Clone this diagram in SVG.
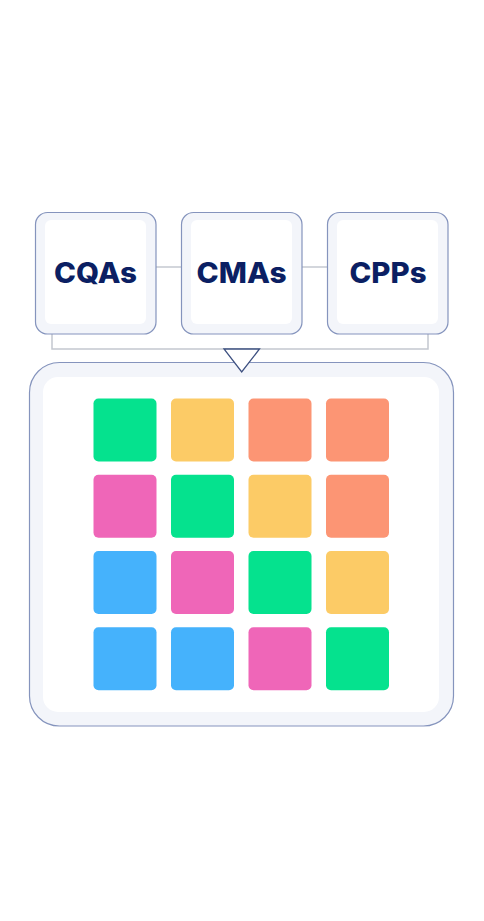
<svg xmlns="http://www.w3.org/2000/svg" width="484" height="921" viewBox="0 0 484 921">
<style>
.card{fill:#f3f5fa;stroke:#8594bd;stroke-width:1.2}
.inner{fill:#ffffff}
.lbl{font-family:Inter,"Liberation Sans",Arial,sans-serif;font-weight:800;font-size:28.5px;fill:#0b1f63;text-anchor:middle}
.link{stroke:#c4c8d0;stroke-width:1.5;fill:none}
.g{fill:#05e28e}.y{fill:#fccb66}.o{fill:#fc9574}.p{fill:#ef66b8}.b{fill:#45b2fc}
</style>
<rect width="484" height="921" fill="#ffffff"/>
<g id="connectors">
<line class="link" x1="156" y1="267" x2="181" y2="267"/>
<line class="link" x1="302" y1="267" x2="327" y2="267"/>
<polyline class="link" points="52,334 52,349 428,349 428,334" stroke="#d6d9df"/>
</g>
<g id="cqas">
<rect class="card" x="35.5" y="212.5" width="120.5" height="121.5" rx="12"/>
<rect class="inner" x="45" y="220" width="101" height="104" rx="6"/>
<text class="lbl" x="95.5" y="282.5" textLength="83" lengthAdjust="spacingAndGlyphs">CQAs</text>
</g>
<g id="cmas">
<rect class="card" x="181.5" y="212.5" width="120.5" height="121.5" rx="12"/>
<rect class="inner" x="191" y="220" width="101" height="104" rx="6"/>
<text class="lbl" x="241.5" y="282.5" textLength="90" lengthAdjust="spacingAndGlyphs">CMAs</text>
</g>
<g id="cpps">
<rect class="card" x="327.5" y="212.5" width="120.5" height="121.5" rx="12"/>
<rect class="inner" x="337" y="220" width="101" height="104" rx="6"/>
<text class="lbl" x="388" y="282.5" textLength="77" lengthAdjust="spacingAndGlyphs">CPPs</text>
</g>
<g id="panel">
<rect class="card" x="29.5" y="362.5" width="424" height="363.5" rx="30"/>
<rect class="inner" x="43" y="377" width="396" height="335" rx="15"/>
<rect class="g" x="93.5" y="398.5" width="63" height="63" rx="5"/>
<rect class="y" x="171" y="398.5" width="63" height="63" rx="5"/>
<rect class="o" x="248.5" y="398.5" width="63" height="63" rx="5"/>
<rect class="o" x="326" y="398.5" width="63" height="63" rx="5"/>
<rect class="p" x="93.5" y="474.8" width="63" height="63" rx="5"/>
<rect class="g" x="171" y="474.8" width="63" height="63" rx="5"/>
<rect class="y" x="248.5" y="474.8" width="63" height="63" rx="5"/>
<rect class="o" x="326" y="474.8" width="63" height="63" rx="5"/>
<rect class="b" x="93.5" y="551" width="63" height="63" rx="5"/>
<rect class="p" x="171" y="551" width="63" height="63" rx="5"/>
<rect class="g" x="248.5" y="551" width="63" height="63" rx="5"/>
<rect class="y" x="326" y="551" width="63" height="63" rx="5"/>
<rect class="b" x="93.5" y="627.3" width="63" height="63" rx="5"/>
<rect class="b" x="171" y="627.3" width="63" height="63" rx="5"/>
<rect class="p" x="248.5" y="627.3" width="63" height="63" rx="5"/>
<rect class="g" x="326" y="627.3" width="63" height="63" rx="5"/>
</g>
<g id="pointer">
<polygon points="224,349 259.5,349 241.7,372" fill="#ffffff" stroke="#3d5080" stroke-width="1.3"/>
</g>
</svg>
